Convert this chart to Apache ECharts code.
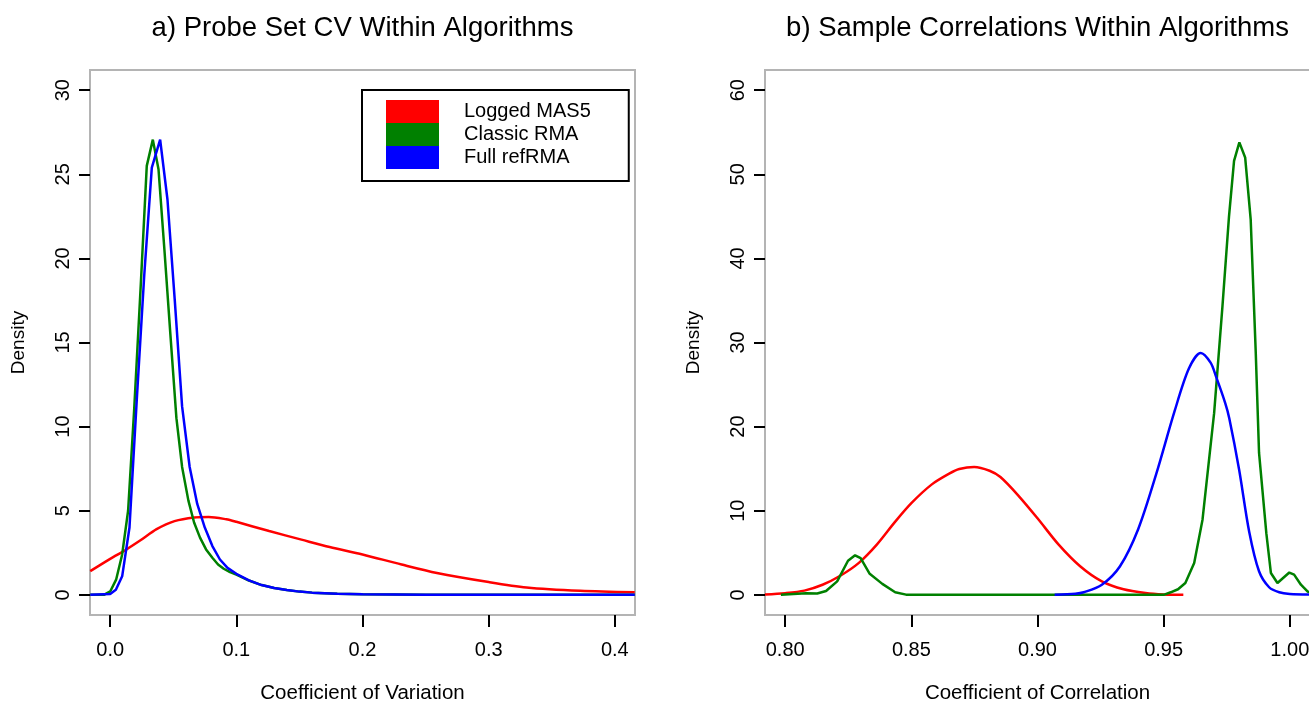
<!DOCTYPE html>
<html>
<head>
<meta charset="utf-8">
<script src="https://cdn.jsdelivr.net/npm/echarts@6/dist/echarts.min.js"></script>
<style>
html,body{margin:0;padding:0;background:#fff;}
#chart{width:1309px;height:702px;}
</style>
</head>
<body>
<div id="chart"></div>
<script>
// ---- Data ----
const seriesNames = ['Logged MAS5', 'Classic RMA', 'Full refRMA'];
const titleA = 'a) Probe Set CV Within Algorithms';
const titleB = 'b) Sample Correlations Within Algorithms';
const xNameA = 'Coefficient of Variation';
const xNameB = 'Coefficient of Correlation';
const yName = 'Density';

const xTicksA = [0, 0.1, 0.2, 0.3, 0.4];
const yTicksA = [0, 5, 10, 15, 20, 25, 30];
const xTicksB = [0.80, 0.85, 0.90, 0.95, 1.00];
const yTicksB = [0, 10, 20, 30, 40, 50, 60];

// Panel a: density of probe-set CV
const cvMAS5 = [[-0.0158,1.41],[0.0,2.14],[0.0127,2.69],[0.024,3.24],[0.0368,3.9],[0.051,4.38],[0.0666,4.6],[0.078,4.63],[0.092,4.49],[0.1,4.34],[0.126,3.79],[0.1516,3.28],[0.174,2.84],[0.2,2.4],[0.231,1.8],[0.259,1.3],[0.3,0.76],[0.33,0.44],[0.3725,0.24],[0.4158,0.15]];
const cvRMA = [[-0.0158,0],[-0.005,0],[0.0,0.2],[0.0047,0.9],[0.0095,2.4],[0.0142,5.0],[0.019,11.0],[0.0243,18.5],[0.029,25.5],[0.0338,27.06],[0.0383,25.3],[0.043,20.5],[0.0477,15.5],[0.0525,10.5],[0.057,7.6],[0.062,5.6],[0.0665,4.3],[0.0712,3.4],[0.076,2.7],[0.081,2.2],[0.0855,1.8],[0.09,1.55],[0.095,1.35],[0.1,1.2],[0.11,0.85],[0.12,0.58],[0.13,0.4],[0.14,0.28],[0.15,0.19],[0.16,0.13],[0.18,0.07],[0.2,0.04],[0.25,0.01],[0.3,0],[0.4158,0]];
const cvRefRMA = [[-0.0158,0],[0.0,0.05],[0.0045,0.3],[0.0095,1.1],[0.0153,4.0],[0.021,11.5],[0.027,19.0],[0.033,25.4],[0.0396,27.06],[0.0454,23.5],[0.0512,17.5],[0.057,11.2],[0.063,7.6],[0.069,5.4],[0.075,4.0],[0.081,2.9],[0.087,2.1],[0.093,1.6],[0.1,1.25],[0.11,0.86],[0.12,0.58],[0.13,0.4],[0.14,0.28],[0.15,0.19],[0.16,0.13],[0.18,0.07],[0.2,0.04],[0.25,0.01],[0.3,0],[0.4158,0]];

// Panel b: density of sample correlations
const corMAS5 = [[0.792,0.05],[0.80,0.2],[0.8076,0.5],[0.8148,1.2],[0.822,2.3],[0.8292,3.8],[0.8364,6.0],[0.8436,8.7],[0.85,10.9],[0.858,13.1],[0.865,14.4],[0.869,14.95],[0.8749,15.2],[0.881,14.75],[0.8853,14.0],[0.8924,11.8],[0.90,9.1],[0.9083,6.0],[0.9169,3.4],[0.9255,1.6],[0.9341,0.66],[0.9428,0.22],[0.95,0.05],[0.9578,0.0]];
const corRMA = [[0.7983,0],[0.8033,0.1],[0.8083,0.2],[0.8127,0.15],[0.8162,0.45],[0.8206,1.6],[0.8249,4.05],[0.8277,4.7],[0.8299,4.35],[0.8335,2.5],[0.8385,1.3],[0.8436,0.3],[0.8479,0.02],[0.86,0],[0.95,0],[0.9528,0.3],[0.9557,0.66],[0.9586,1.4],[0.9621,3.77],[0.9654,8.93],[0.97,21.6],[0.9733,34.3],[0.9759,45.0],[0.9779,51.6],[0.98,53.8],[0.9823,52.0],[0.9845,44.6],[0.9865,28.8],[0.9878,16.9],[0.9907,7.3],[0.9925,2.6],[0.9951,1.4],[0.9998,2.65],[1.0017,2.4],[1.0044,1.2],[1.007,0.4],[1.009,0.2]];
const corRefRMA = [[0.9068,0],[0.915,0.12],[0.9183,0.3],[0.9255,1.2],[0.9327,3.4],[0.9399,7.8],[0.9471,14.4],[0.9543,21.8],[0.96,26.9],[0.9647,28.75],[0.9686,27.6],[0.9707,26.0],[0.9744,22.8],[0.976,21.0],[0.9799,14.9],[0.9839,7.5],[0.9878,2.8],[0.9918,0.9],[0.9958,0.3],[1.0,0.1],[1.009,0.03]];

const colors = ['#ff0000', '#008000', '#0000ff'];

// ---- Chart ----
const FONT = '"Liberation Sans", Arial, Helvetica, sans-serif';
const FRAME = '#b4b4b4';
const chart = echarts.init(document.getElementById('chart'));

function xAxisCfg(gridIndex, min, max, ticks, digits, name) {
  return {
    type: 'value', gridIndex, min, max, position: 'bottom',
    name, nameLocation: 'middle', nameGap: 68,
    nameTextStyle: {color: '#000', fontFamily: FONT, fontSize: 20.5},
    axisLine: {show: true, onZero: false, lineStyle: {color: FRAME, width: 2}},
    splitLine: {show: false},
    axisTick: {show: true, length: 12, customValues: ticks, lineStyle: {color: '#000', width: 2}},
    axisLabel: {show: true, customValues: ticks, margin: 25, color: '#000', fontFamily: FONT, fontSize: 20,
      formatter: v => Number(v).toFixed(digits)}
  };
}
// tick strip: a thin grid just above each plot's bottom edge, holding an x axis with the same scale
function tickGrid(left) {
  return {left, top: 603, width: 545, height: 12, show: false, containLabel: false, outerBoundsMode: 'none'};
}
function xTickAxisCfg(gridIndex, min, max, ticks) {
  return {
    type: 'value', gridIndex, min, max,
    axisLine: {show: false},
    splitLine: {show: false},
    axisTick: {show: true, length: 12, customValues: ticks, lineStyle: {color: '#000', width: 2}},
    axisLabel: {show: true, customValues: ticks, formatter: () => ''}
  };
}
function yHelperCfg(gridIndex) {
  return {type: 'value', gridIndex, min: 0, max: 1, show: false, splitLine: {show: false}};
}
function yAxisCfg(gridIndex, min, max, ticks) {
  return {
    type: 'value', gridIndex, min, max,
    name: yName, nameLocation: 'middle', nameGap: 62, nameRotate: 90,
    nameTextStyle: {color: '#000', fontFamily: FONT, fontSize: 19},
    axisLine: {show: true, onZero: false, lineStyle: {color: FRAME, width: 2}},
    splitLine: {show: false},
    axisTick: {show: true, length: 11, customValues: ticks, lineStyle: {color: '#000', width: 2}},
    axisLabel: {show: true, customValues: ticks, rotate: 90, margin: 17, color: '#000', fontFamily: FONT, fontSize: 20,
      formatter: v => String(v)}
  };
}
function lineSeries(name, data, idx, color, smooth) {
  return {
    name, type: 'line', xAxisIndex: idx, yAxisIndex: idx, data,
    showSymbol: false, symbol: 'none', smooth: smooth || false, clip: true,
    lineStyle: {color, width: 2.5}, itemStyle: {color},
    emphasis: {disabled: true}
  };
}

const gridBase = {top: 70, width: 545, height: 545, show: true, borderColor: FRAME, borderWidth: 2,
  backgroundColor: 'transparent', containLabel: false, outerBoundsMode: 'none'};

const option = {
  animation: false,
  backgroundColor: '#ffffff',
  title: [
    {text: titleA, left: 362.5, top: 14, textAlign: 'center', padding: 0,
     textStyle: {color: '#000', fontFamily: FONT, fontSize: 27.5, fontWeight: 'normal'}},
    {text: titleB, left: 1037.5, top: 14, textAlign: 'center', padding: 0,
     textStyle: {color: '#000', fontFamily: FONT, fontSize: 27.5, fontWeight: 'normal'}}
  ],
  legend: {
    data: seriesNames,
    orient: 'vertical', left: 362, top: 90, width: 267,
    itemWidth: 53, itemHeight: 23, itemGap: 0,
    icon: 'rect',
    padding: [10, 38, 12, 24],
    borderColor: '#000', borderWidth: 2, borderRadius: 0,
    backgroundColor: '#fff',
    selectedMode: false,
    itemStyle: {borderWidth: 0},
    textStyle: {color: '#000', fontFamily: FONT, fontSize: 20, padding: [0, 0, 0, 20]}
  },
  grid: [
    Object.assign({left: 90}, gridBase),
    Object.assign({left: 765}, gridBase),
    tickGrid(90),
    tickGrid(765)
  ],
  xAxis: [
    xAxisCfg(0, -0.016, 0.416, xTicksA, 1, xNameA),
    xAxisCfg(1, 0.792, 1.008, xTicksB, 2, xNameB),
    xTickAxisCfg(2, -0.016, 0.416, xTicksA),
    xTickAxisCfg(3, 0.792, 1.008, xTicksB)
  ],
  yAxis: [
    yAxisCfg(0, -1.2, 31.2, yTicksA),
    yAxisCfg(1, -2.4, 62.4, yTicksB),
    yHelperCfg(2),
    yHelperCfg(3)
  ],
  series: [
    lineSeries(seriesNames[0], cvMAS5, 0, colors[0], 0.3),
    lineSeries(seriesNames[1], cvRMA, 0, colors[1]),
    lineSeries(seriesNames[2], cvRefRMA, 0, colors[2]),
    lineSeries(seriesNames[0], corMAS5, 1, colors[0], 0.3),
    lineSeries(seriesNames[1], corRMA, 1, colors[1]),
    lineSeries(seriesNames[2], corRefRMA, 1, colors[2], 0.3)
  ]
};
chart.setOption(option);
</script>
</body>
</html>
